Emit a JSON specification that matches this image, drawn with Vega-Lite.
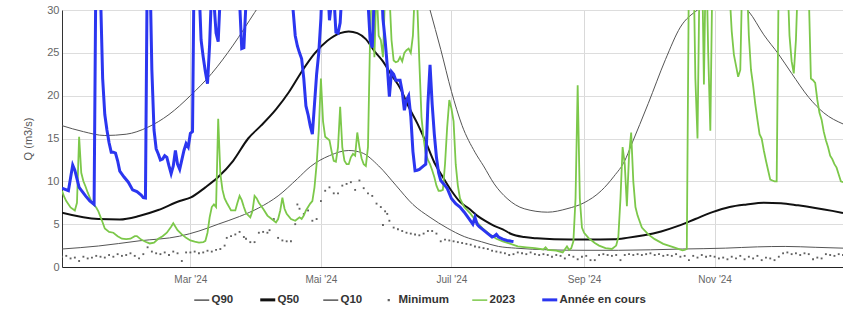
{
  "$schema": "https://vega.github.io/schema/vega-lite/v6.json",
  "width": 781,
  "height": 257,
  "autosize": "none",
  "padding": {"left": 62, "top": 10, "right": 0, "bottom": 45},
  "background": "white",
  "config": {
    "view": {"stroke": null},
    "font": "Liberation Sans"
  },
  "datasets": {
    "q90": [
      {"date":"2024-01-01","q":16.5},{"date":"2024-01-11","q":15.8},{"date":"2024-01-21","q":15.35},{"date":"2024-01-31","q":15.5},{"date":"2024-02-10","q":16.3},{"date":"2024-02-20","q":17.8},{"date":"2024-03-01","q":20.0},{"date":"2024-03-11","q":22.6},{"date":"2024-03-21","q":25.9},{"date":"2024-03-31","q":29.7},{"date":"2024-04-10","q":33.5},{"date":"2024-04-20","q":37.5},{"date":"2024-04-30","q":41},{"date":"2024-05-10","q":43.5},{"date":"2024-05-20","q":44.5},{"date":"2024-05-30","q":43},{"date":"2024-06-09","q":39},{"date":"2024-06-15","q":35.5},{"date":"2024-06-21","q":30.0},{"date":"2024-06-26","q":25.4},{"date":"2024-07-01","q":20.5},{"date":"2024-07-06","q":16.5},{"date":"2024-07-12","q":13.4},{"date":"2024-07-16","q":11.8},{"date":"2024-07-21","q":9.7},{"date":"2024-07-27","q":8.0},{"date":"2024-08-04","q":6.8},{"date":"2024-08-15","q":6.4},{"date":"2024-08-24","q":6.8},{"date":"2024-09-01","q":7.5},{"date":"2024-09-09","q":8.9},{"date":"2024-09-15","q":10.6},{"date":"2024-09-20","q":12.4},{"date":"2024-09-23","q":14.2},{"date":"2024-10-01","q":19.1},{"date":"2024-10-09","q":24.2},{"date":"2024-10-16","q":28.0},{"date":"2024-10-24","q":30.0},{"date":"2024-10-30","q":30.9},{"date":"2024-11-05","q":31.3},{"date":"2024-11-11","q":31.0},{"date":"2024-11-17","q":29.8},{"date":"2024-11-24","q":27.1},{"date":"2024-12-01","q":24.8},{"date":"2024-12-07","q":22.6},{"date":"2024-12-15","q":19.8},{"date":"2024-12-22","q":18.0},{"date":"2024-12-31","q":16.7}
    ],
    "q50": [
      {"date":"2024-01-01","q":6.35},{"date":"2024-01-18","q":5.6},{"date":"2024-01-28","q":5.55},{"date":"2024-02-06","q":5.95},{"date":"2024-02-15","q":6.65},{"date":"2024-02-25","q":7.7},{"date":"2024-03-01","q":8.1},{"date":"2024-03-08","q":9.3},{"date":"2024-03-14","q":10.5},{"date":"2024-03-21","q":12.4},{"date":"2024-03-28","q":15.0},{"date":"2024-04-03","q":16.5},{"date":"2024-04-10","q":18.4},{"date":"2024-04-16","q":20.4},{"date":"2024-04-22","q":22.8},{"date":"2024-04-28","q":24.9},{"date":"2024-05-04","q":26.4},{"date":"2024-05-10","q":27.3},{"date":"2024-05-14","q":27.5},{"date":"2024-05-18","q":27.3},{"date":"2024-05-22","q":26.6},{"date":"2024-05-26","q":25.2},{"date":"2024-05-30","q":24.0},{"date":"2024-06-03","q":22.4},{"date":"2024-06-07","q":20.9},{"date":"2024-06-11","q":18.7},{"date":"2024-06-15","q":16.8},{"date":"2024-06-19","q":14.6},{"date":"2024-06-23","q":12.2},{"date":"2024-06-27","q":10.5},{"date":"2024-07-01","q":8.9},{"date":"2024-07-05","q":7.6},{"date":"2024-07-09","q":6.85},{"date":"2024-07-13","q":6.0},{"date":"2024-07-17","q":5.35},{"date":"2024-07-21","q":4.8},{"date":"2024-07-25","q":4.4},{"date":"2024-07-29","q":3.85},{"date":"2024-08-04","q":3.5},{"date":"2024-08-10","q":3.35},{"date":"2024-08-18","q":3.25},{"date":"2024-09-02","q":3.2},{"date":"2024-09-15","q":3.25},{"date":"2024-09-21","q":3.4},{"date":"2024-09-29","q":3.7},{"date":"2024-10-07","q":4.15},{"date":"2024-10-15","q":4.8},{"date":"2024-10-23","q":5.6},{"date":"2024-10-31","q":6.4},{"date":"2024-11-08","q":7.0},{"date":"2024-11-16","q":7.3},{"date":"2024-11-24","q":7.5},{"date":"2024-12-02","q":7.45},{"date":"2024-12-10","q":7.2},{"date":"2024-12-18","q":6.9},{"date":"2024-12-26","q":6.55},{"date":"2024-12-31","q":6.3}
    ],
    "q10": [
      {"date":"2024-01-01","q":2.1},{"date":"2024-01-18","q":2.45},{"date":"2024-02-06","q":3.05},{"date":"2024-02-25","q":3.6},{"date":"2024-03-05","q":4.2},{"date":"2024-03-14","q":5.0},{"date":"2024-03-24","q":5.9},{"date":"2024-04-02","q":6.9},{"date":"2024-04-11","q":8.3},{"date":"2024-04-20","q":10.3},{"date":"2024-04-26","q":11.7},{"date":"2024-05-05","q":13.0},{"date":"2024-05-14","q":13.6},{"date":"2024-05-20","q":13.35},{"date":"2024-05-28","q":11.8},{"date":"2024-06-05","q":9.55},{"date":"2024-06-13","q":7.3},{"date":"2024-06-21","q":5.8},{"date":"2024-06-29","q":4.55},{"date":"2024-07-07","q":3.55},{"date":"2024-07-15","q":2.95},{"date":"2024-07-23","q":2.4},{"date":"2024-07-31","q":2.2},{"date":"2024-08-16","q":2.0},{"date":"2024-09-01","q":1.95},{"date":"2024-09-17","q":1.95},{"date":"2024-10-17","q":2.1},{"date":"2024-11-06","q":2.2},{"date":"2024-11-21","q":2.35},{"date":"2024-12-04","q":2.4},{"date":"2024-12-18","q":2.3},{"date":"2024-12-31","q":2.2}
    ],
    "minimum": [
      {"date":"2024-01-01","q":1.2},{"date":"2024-01-03","q":1.3},{"date":"2024-01-05","q":1.0},{"date":"2024-01-07","q":1.1},{"date":"2024-01-09","q":0.7},{"date":"2024-01-11","q":1.2},{"date":"2024-01-13","q":1.0},{"date":"2024-01-15","q":1.1},{"date":"2024-01-17","q":1.3},{"date":"2024-01-19","q":1.2},{"date":"2024-01-21","q":1.1},{"date":"2024-01-23","q":1.4},{"date":"2024-01-25","q":1.2},{"date":"2024-01-27","q":1.5},{"date":"2024-01-29","q":1.3},{"date":"2024-01-31","q":1.4},
      {"date":"2024-02-02","q":1.6},{"date":"2024-02-04","q":1.3},{"date":"2024-02-06","q":1.0},{"date":"2024-02-08","q":1.5},{"date":"2024-02-10","q":2.3},{"date":"2024-02-12","q":1.8},{"date":"2024-02-14","q":1.6},{"date":"2024-02-16","q":1.5},{"date":"2024-02-18","q":1.7},{"date":"2024-02-20","q":1.4},{"date":"2024-02-22","q":1.8},{"date":"2024-02-24","q":1.6},{"date":"2024-02-26","q":0.7},{"date":"2024-02-28","q":1.7},
      {"date":"2024-03-01","q":1.7},{"date":"2024-03-03","q":1.8},{"date":"2024-03-05","q":1.6},{"date":"2024-03-07","q":1.7},{"date":"2024-03-09","q":1.9},{"date":"2024-03-11","q":1.8},{"date":"2024-03-13","q":2.0},{"date":"2024-03-15","q":2.1},{"date":"2024-03-17","q":2.5},{"date":"2024-03-18","q":3.4},{"date":"2024-03-20","q":3.6},{"date":"2024-03-22","q":3.8},{"date":"2024-03-24","q":4.1},{"date":"2024-03-26","q":3.5},{"date":"2024-03-27","q":3.3},{"date":"2024-03-29","q":2.9},{"date":"2024-03-31","q":2.9},
      {"date":"2024-04-02","q":4.0},{"date":"2024-04-04","q":4.1},{"date":"2024-04-06","q":4.0},{"date":"2024-04-07","q":4.3},{"date":"2024-04-09","q":5.6},{"date":"2024-04-11","q":3.4},{"date":"2024-04-13","q":3.1},{"date":"2024-04-15","q":3.0},{"date":"2024-04-17","q":3.0},{"date":"2024-04-19","q":5.0},{"date":"2024-04-20","q":7.3},{"date":"2024-04-21","q":6.8},{"date":"2024-04-23","q":6.2},{"date":"2024-04-25","q":6.6},{"date":"2024-04-27","q":5.4},{"date":"2024-04-29","q":5.6},
      {"date":"2024-05-01","q":7.7},{"date":"2024-05-03","q":8.9},{"date":"2024-05-05","q":9.3},{"date":"2024-05-07","q":8.6},{"date":"2024-05-09","q":8.6},{"date":"2024-05-11","q":9.5},{"date":"2024-05-13","q":9.7},{"date":"2024-05-15","q":9.9},{"date":"2024-05-17","q":9.0},{"date":"2024-05-19","q":10.1},{"date":"2024-05-21","q":9.2},{"date":"2024-05-23","q":8.6},{"date":"2024-05-25","q":8.3},{"date":"2024-05-27","q":7.4},{"date":"2024-05-29","q":7.0},{"date":"2024-05-30","q":4.9},{"date":"2024-05-31","q":6.5},
      {"date":"2024-06-01","q":6.2},{"date":"2024-06-02","q":5.4},{"date":"2024-06-04","q":4.6},{"date":"2024-06-06","q":4.4},{"date":"2024-06-08","q":4.2},{"date":"2024-06-10","q":4.0},{"date":"2024-06-12","q":3.9},{"date":"2024-06-14","q":3.8},{"date":"2024-06-16","q":3.7},{"date":"2024-06-18","q":3.9},{"date":"2024-06-20","q":4.2},{"date":"2024-06-22","q":4.2},{"date":"2024-06-24","q":3.9},{"date":"2024-06-26","q":3.0},{"date":"2024-06-28","q":3.2},{"date":"2024-06-30","q":3.1},
      {"date":"2024-07-02","q":3.0},{"date":"2024-07-04","q":2.9},{"date":"2024-07-06","q":2.8},{"date":"2024-07-08","q":2.7},{"date":"2024-07-10","q":2.6},{"date":"2024-07-12","q":2.4},{"date":"2024-07-14","q":2.3},{"date":"2024-07-16","q":2.2},{"date":"2024-07-18","q":2.1},{"date":"2024-07-20","q":1.9},{"date":"2024-07-22","q":1.8},{"date":"2024-07-24","q":1.7},{"date":"2024-07-26","q":1.6},{"date":"2024-07-28","q":1.4},{"date":"2024-07-30","q":1.5},
      {"date":"2024-08-01","q":1.7},{"date":"2024-08-03","q":1.6},{"date":"2024-08-05","q":1.5},{"date":"2024-08-07","q":1.7},{"date":"2024-08-09","q":1.5},{"date":"2024-08-11","q":1.4},{"date":"2024-08-13","q":1.5},{"date":"2024-08-15","q":1.4},{"date":"2024-08-17","q":1.2},{"date":"2024-08-19","q":1.4},{"date":"2024-08-21","q":1.3},{"date":"2024-08-23","q":1.0},{"date":"2024-08-25","q":1.4},{"date":"2024-08-27","q":1.2},{"date":"2024-08-29","q":0.9},{"date":"2024-08-31","q":1.2},
      {"date":"2024-09-02","q":1.3},{"date":"2024-09-04","q":0.8},{"date":"2024-09-06","q":0.8},{"date":"2024-09-08","q":1.4},{"date":"2024-09-10","q":1.5},{"date":"2024-09-12","q":1.4},{"date":"2024-09-14","q":1.3},{"date":"2024-09-16","q":1.4},{"date":"2024-09-18","q":0.8},{"date":"2024-09-20","q":1.4},{"date":"2024-09-22","q":1.5},{"date":"2024-09-24","q":1.4},{"date":"2024-09-26","q":1.5},{"date":"2024-09-28","q":1.4},{"date":"2024-09-30","q":1.5},
      {"date":"2024-10-02","q":1.6},{"date":"2024-10-04","q":1.4},{"date":"2024-10-06","q":1.5},{"date":"2024-10-08","q":1.3},{"date":"2024-10-10","q":1.4},{"date":"2024-10-12","q":1.3},{"date":"2024-10-14","q":1.5},{"date":"2024-10-16","q":1.2},{"date":"2024-10-18","q":1.3},{"date":"2024-10-20","q":0.8},{"date":"2024-10-22","q":1.3},{"date":"2024-10-24","q":1.1},{"date":"2024-10-26","q":1.4},{"date":"2024-10-28","q":1.2},{"date":"2024-10-30","q":1.3},
      {"date":"2024-11-01","q":1.2},{"date":"2024-11-03","q":1.0},{"date":"2024-11-05","q":1.1},{"date":"2024-11-07","q":0.9},{"date":"2024-11-09","q":1.2},{"date":"2024-11-11","q":1.0},{"date":"2024-11-13","q":1.3},{"date":"2024-11-15","q":0.9},{"date":"2024-11-17","q":1.2},{"date":"2024-11-19","q":1.0},{"date":"2024-11-21","q":1.3},{"date":"2024-11-23","q":0.8},{"date":"2024-11-25","q":1.1},{"date":"2024-11-27","q":1.0},{"date":"2024-11-29","q":0.8},
      {"date":"2024-12-01","q":1.2},{"date":"2024-12-03","q":1.6},{"date":"2024-12-05","q":1.7},{"date":"2024-12-07","q":1.5},{"date":"2024-12-09","q":1.6},{"date":"2024-12-11","q":1.4},{"date":"2024-12-13","q":1.6},{"date":"2024-12-15","q":1.5},{"date":"2024-12-17","q":0.9},{"date":"2024-12-19","q":1.1},{"date":"2024-12-21","q":1.0},{"date":"2024-12-23","q":1.5},{"date":"2024-12-25","q":1.4},{"date":"2024-12-27","q":1.3},{"date":"2024-12-29","q":1.5},{"date":"2024-12-31","q":1.4}
    ],
    "y2023": [
      {"date":"2024-01-01","q":8.9},{"date":"2024-01-02","q":8.2},{"date":"2024-01-03","q":7.7},{"date":"2024-01-05","q":6.95},{"date":"2024-01-07","q":6.6},{"date":"2024-01-08","q":7.5},{"date":"2024-01-09","q":15.2},{"date":"2024-01-10","q":11.0},{"date":"2024-01-11","q":10.0},{"date":"2024-01-12","q":9.4},{"date":"2024-01-13","q":8.7},{"date":"2024-01-15","q":7.5},{"date":"2024-01-17","q":6.95},{"date":"2024-01-18","q":6.5},{"date":"2024-01-20","q":5.2},{"date":"2024-01-21","q":4.5},{"date":"2024-01-23","q":4.1},{"date":"2024-01-25","q":4.0},{"date":"2024-01-27","q":3.6},{"date":"2024-01-29","q":3.3},{"date":"2024-01-31","q":3.25},
      {"date":"2024-02-02","q":3.3},{"date":"2024-02-04","q":3.6},{"date":"2024-02-05","q":3.6},{"date":"2024-02-07","q":3.2},{"date":"2024-02-09","q":2.95},{"date":"2024-02-11","q":2.75},{"date":"2024-02-13","q":2.85},{"date":"2024-02-15","q":3.3},{"date":"2024-02-17","q":3.6},{"date":"2024-02-19","q":4.0},{"date":"2024-02-21","q":4.7},{"date":"2024-02-22","q":5.1},{"date":"2024-02-24","q":4.3},{"date":"2024-02-26","q":3.8},{"date":"2024-02-28","q":3.4},
      {"date":"2024-03-01","q":3.1},{"date":"2024-03-03","q":2.95},{"date":"2024-03-05","q":2.85},{"date":"2024-03-07","q":2.9},{"date":"2024-03-08","q":3.05},{"date":"2024-03-09","q":4.0},{"date":"2024-03-10","q":5.8},{"date":"2024-03-11","q":7.0},{"date":"2024-03-12","q":7.3},{"date":"2024-03-13","q":7.0},{"date":"2024-03-14","q":17.3},{"date":"2024-03-15","q":10.9},{"date":"2024-03-16","q":9.0},{"date":"2024-03-17","q":8.0},{"date":"2024-03-18","q":7.5},{"date":"2024-03-20","q":6.6},{"date":"2024-03-22","q":6.6},{"date":"2024-03-23","q":7.5},{"date":"2024-03-24","q":8.3},{"date":"2024-03-25","q":7.8},{"date":"2024-03-26","q":7.0},{"date":"2024-03-27","q":6.3},{"date":"2024-03-29","q":5.8},{"date":"2024-03-30","q":6.5},{"date":"2024-03-31","q":8.3},
      {"date":"2024-04-01","q":8.0},{"date":"2024-04-02","q":7.5},{"date":"2024-04-04","q":6.8},{"date":"2024-04-06","q":6.0},{"date":"2024-04-08","q":5.6},{"date":"2024-04-10","q":5.2},{"date":"2024-04-11","q":5.6},{"date":"2024-04-12","q":6.6},{"date":"2024-04-13","q":8.1},{"date":"2024-04-14","q":6.8},{"date":"2024-04-15","q":6.2},{"date":"2024-04-17","q":5.6},{"date":"2024-04-19","q":5.4},{"date":"2024-04-20","q":5.6},{"date":"2024-04-21","q":5.8},{"date":"2024-04-22","q":5.6},{"date":"2024-04-23","q":6.0},{"date":"2024-04-24","q":6.6},{"date":"2024-04-25","q":7.0},{"date":"2024-04-26","q":7.4},{"date":"2024-04-27","q":7.7},{"date":"2024-04-28","q":9.3},{"date":"2024-04-29","q":12},{"date":"2024-04-30","q":15.9},
      {"date":"2024-05-01","q":22.0},{"date":"2024-05-02","q":17.0},{"date":"2024-05-03","q":15.2},{"date":"2024-05-04","q":15.0},{"date":"2024-05-05","q":14.8},{"date":"2024-05-06","q":13.5},{"date":"2024-05-07","q":12.4},{"date":"2024-05-08","q":12.3},{"date":"2024-05-09","q":14},{"date":"2024-05-10","q":18.7},{"date":"2024-05-11","q":14},{"date":"2024-05-12","q":12.4},{"date":"2024-05-13","q":12.0},{"date":"2024-05-14","q":12.0},{"date":"2024-05-15","q":12.8},{"date":"2024-05-16","q":13.2},{"date":"2024-05-17","q":13.0},{"date":"2024-05-18","q":15.7},{"date":"2024-05-19","q":14},{"date":"2024-05-20","q":12.7},{"date":"2024-05-21","q":12.0},{"date":"2024-05-22","q":11.8},{"date":"2024-05-23","q":14},{"date":"2024-05-24","q":27},{"date":"2024-05-25","q":34},{"date":"2024-05-26","q":24.5},{"date":"2024-05-27","q":33},{"date":"2024-05-28","q":27},{"date":"2024-05-29","q":26.5},{"date":"2024-05-30","q":24.5},{"date":"2024-05-31","q":32},
      {"date":"2024-06-01","q":36},{"date":"2024-06-02","q":32},{"date":"2024-06-03","q":26.5},{"date":"2024-06-04","q":24.1},{"date":"2024-06-05","q":23.9},{"date":"2024-06-06","q":24.0},{"date":"2024-06-07","q":24.5},{"date":"2024-06-08","q":24.0},{"date":"2024-06-09","q":25.0},{"date":"2024-06-10","q":25.3},{"date":"2024-06-11","q":25.5},{"date":"2024-06-12","q":25.0},{"date":"2024-06-13","q":27},{"date":"2024-06-14","q":33},{"date":"2024-06-15","q":31},{"date":"2024-06-16","q":24},{"date":"2024-06-17","q":17.5},{"date":"2024-06-18","q":15.0},{"date":"2024-06-19","q":13.2},{"date":"2024-06-20","q":12.5},{"date":"2024-06-21","q":12.0},{"date":"2024-06-22","q":11.3},{"date":"2024-06-23","q":10.5},{"date":"2024-06-24","q":9.5},{"date":"2024-06-25","q":8.9},{"date":"2024-06-26","q":8.9},{"date":"2024-06-27","q":9.0},{"date":"2024-06-28","q":12},{"date":"2024-06-29","q":16.3},{"date":"2024-06-30","q":19.5},
      {"date":"2024-07-01","q":18.5},{"date":"2024-07-02","q":17},{"date":"2024-07-03","q":12},{"date":"2024-07-04","q":9.5},{"date":"2024-07-05","q":8.0},{"date":"2024-07-07","q":7.0},{"date":"2024-07-10","q":6.2},{"date":"2024-07-13","q":5.2},{"date":"2024-07-16","q":4.4},{"date":"2024-07-19","q":3.8},{"date":"2024-07-22","q":3.3},{"date":"2024-07-25","q":3.0},{"date":"2024-07-28","q":2.75},
      {"date":"2024-08-01","q":2.4},{"date":"2024-08-05","q":2.3},{"date":"2024-08-09","q":2.2},{"date":"2024-08-13","q":2.05},{"date":"2024-08-14","q":2.3},{"date":"2024-08-15","q":2.0},{"date":"2024-08-19","q":1.9},{"date":"2024-08-22","q":1.7},{"date":"2024-08-24","q":2.4},{"date":"2024-08-25","q":2.0},{"date":"2024-08-26","q":2.2},{"date":"2024-08-27","q":3.0},{"date":"2024-08-28","q":8},{"date":"2024-08-29","q":21.2},{"date":"2024-08-30","q":8.0},{"date":"2024-08-31","q":4.6},
      {"date":"2024-09-01","q":4.0},{"date":"2024-09-03","q":3.4},{"date":"2024-09-06","q":2.8},{"date":"2024-09-08","q":2.5},{"date":"2024-09-11","q":2.2},{"date":"2024-09-14","q":2.1},{"date":"2024-09-16","q":2.5},{"date":"2024-09-17","q":3.5},{"date":"2024-09-18","q":8},{"date":"2024-09-19","q":14.0},{"date":"2024-09-20","q":12.0},{"date":"2024-09-21","q":7.1},{"date":"2024-09-22","q":13},{"date":"2024-09-23","q":15.7},{"date":"2024-09-24","q":10},{"date":"2024-09-25","q":7.0},{"date":"2024-09-26","q":6.0},{"date":"2024-09-28","q":4.6},
      {"date":"2024-10-01","q":3.8},{"date":"2024-10-04","q":3.25},{"date":"2024-10-08","q":2.7},{"date":"2024-10-13","q":2.3},{"date":"2024-10-17","q":1.95},{"date":"2024-10-18","q":2.0},{"date":"2024-10-19","q":2.1},{"date":"2024-10-20","q":35},{"date":"2024-10-21","q":40},{"date":"2024-10-22","q":38},{"date":"2024-10-23","q":22},{"date":"2024-10-24","q":15.0},{"date":"2024-10-25","q":35},{"date":"2024-10-26","q":38},{"date":"2024-10-27","q":21.3},{"date":"2024-10-28","q":38},{"date":"2024-10-29","q":25},{"date":"2024-10-30","q":15.9},{"date":"2024-10-31","q":35},
      {"date":"2024-11-02","q":45},{"date":"2024-11-05","q":50},{"date":"2024-11-08","q":32},{"date":"2024-11-09","q":27.5},{"date":"2024-11-10","q":24.8},{"date":"2024-11-11","q":23.5},{"date":"2024-11-12","q":22.2},{"date":"2024-11-13","q":23},{"date":"2024-11-14","q":35},{"date":"2024-11-15","q":40},{"date":"2024-11-16","q":34},{"date":"2024-11-17","q":27},{"date":"2024-11-18","q":23},{"date":"2024-11-19","q":21.2},{"date":"2024-11-20","q":19.0},{"date":"2024-11-21","q":17.2},{"date":"2024-11-22","q":15.5},{"date":"2024-11-23","q":15.0},{"date":"2024-11-24","q":13.6},{"date":"2024-11-25","q":12.4},{"date":"2024-11-26","q":11.3},{"date":"2024-11-27","q":10.2},{"date":"2024-11-28","q":10.1},{"date":"2024-11-29","q":10.0},{"date":"2024-11-30","q":10.0},
      {"date":"2024-12-01","q":35},{"date":"2024-12-03","q":45},{"date":"2024-12-05","q":34},{"date":"2024-12-06","q":27},{"date":"2024-12-07","q":24},{"date":"2024-12-08","q":22.6},{"date":"2024-12-09","q":26.5},{"date":"2024-12-10","q":34},{"date":"2024-12-12","q":45},{"date":"2024-12-15","q":32},{"date":"2024-12-16","q":22},{"date":"2024-12-17","q":21.8},{"date":"2024-12-18","q":21.5},{"date":"2024-12-19","q":19.5},{"date":"2024-12-20","q":18},{"date":"2024-12-21","q":17.2},{"date":"2024-12-22","q":15.8},{"date":"2024-12-23","q":14.8},{"date":"2024-12-24","q":14},{"date":"2024-12-25","q":13},{"date":"2024-12-26","q":12.6},{"date":"2024-12-27","q":12.0},{"date":"2024-12-28","q":11.6},{"date":"2024-12-29","q":10.8},{"date":"2024-12-30","q":10.0},{"date":"2024-12-31","q":9.9}
    ],
    "courante": [
      {"date":"2024-01-01","q":9.2},{"date":"2024-01-04","q":8.9},{"date":"2024-01-06","q":11.9},{"date":"2024-01-07","q":11.3},{"date":"2024-01-09","q":9.3},{"date":"2024-01-12","q":8.3},{"date":"2024-01-14","q":7.7},{"date":"2024-01-16","q":7.3},{"date":"2024-01-17","q":40},{"date":"2024-01-18","q":45},{"date":"2024-01-19","q":32},{"date":"2024-01-20","q":22},{"date":"2024-01-21","q":17.8},{"date":"2024-01-22","q":16.0},{"date":"2024-01-23","q":14.5},{"date":"2024-01-24","q":13.4},{"date":"2024-01-25","q":13.4},{"date":"2024-01-26","q":13.3},{"date":"2024-01-27","q":12.4},{"date":"2024-01-28","q":11.2},{"date":"2024-01-30","q":10.5},
      {"date":"2024-02-01","q":9.9},{"date":"2024-02-03","q":9.0},{"date":"2024-02-05","q":8.8},{"date":"2024-02-07","q":8.4},{"date":"2024-02-08","q":8.1},{"date":"2024-02-09","q":8.05},{"date":"2024-02-10","q":40},{"date":"2024-02-11","q":36},{"date":"2024-02-12","q":23},{"date":"2024-02-13","q":16},{"date":"2024-02-14","q":13.8},{"date":"2024-02-15","q":13.2},{"date":"2024-02-16","q":12.5},{"date":"2024-02-17","q":12.6},{"date":"2024-02-18","q":13.0},{"date":"2024-02-19","q":12.8},{"date":"2024-02-20","q":11.8},{"date":"2024-02-21","q":10.9},{"date":"2024-02-22","q":11.8},{"date":"2024-02-23","q":13.6},{"date":"2024-02-24","q":12.0},{"date":"2024-02-25","q":11.4},{"date":"2024-02-26","q":12.5},{"date":"2024-02-27","q":13.6},{"date":"2024-02-28","q":14.4},{"date":"2024-02-29","q":14.0},
      {"date":"2024-03-01","q":15.6},{"date":"2024-03-02","q":15.8},{"date":"2024-03-03","q":42},{"date":"2024-03-04","q":45},{"date":"2024-03-05","q":33},{"date":"2024-03-06","q":26.5},{"date":"2024-03-07","q":24.5},{"date":"2024-03-08","q":22.8},{"date":"2024-03-09","q":21.4},{"date":"2024-03-10","q":26},{"date":"2024-03-11","q":33},{"date":"2024-03-12","q":31},{"date":"2024-03-13","q":27.3},{"date":"2024-03-14","q":26.3},{"date":"2024-03-15","q":32},{"date":"2024-03-16","q":40},{"date":"2024-03-19","q":45},{"date":"2024-03-22","q":40},{"date":"2024-03-24","q":31},{"date":"2024-03-25","q":25.5},{"date":"2024-03-26","q":25.6},{"date":"2024-03-27","q":31},{"date":"2024-03-28","q":40},
      {"date":"2024-04-02","q":50},{"date":"2024-04-07","q":42},{"date":"2024-04-11","q":55},{"date":"2024-04-15","q":45},{"date":"2024-04-17","q":34},{"date":"2024-04-18","q":30},{"date":"2024-04-19","q":27},{"date":"2024-04-20","q":25.8},{"date":"2024-04-21","q":25},{"date":"2024-04-22","q":24.3},{"date":"2024-04-23","q":22},{"date":"2024-04-24","q":18.8},{"date":"2024-04-25","q":17.8},{"date":"2024-04-26","q":16.5},{"date":"2024-04-27","q":15.5},{"date":"2024-04-28","q":19},{"date":"2024-04-29","q":22.5},{"date":"2024-04-30","q":25},
      {"date":"2024-05-01","q":29},{"date":"2024-05-02","q":36},{"date":"2024-05-03","q":40},{"date":"2024-05-04","q":34},{"date":"2024-05-05","q":28.8},{"date":"2024-05-06","q":31},{"date":"2024-05-07","q":32},{"date":"2024-05-08","q":27.4},{"date":"2024-05-09","q":27.3},{"date":"2024-05-10","q":28.5},{"date":"2024-05-11","q":33},{"date":"2024-05-12","q":40},{"date":"2024-05-16","q":48},{"date":"2024-05-20","q":42},{"date":"2024-05-22","q":40},{"date":"2024-05-23","q":31},{"date":"2024-05-24","q":26.5},{"date":"2024-05-25","q":25.6},{"date":"2024-05-26","q":32},{"date":"2024-05-27","q":42},{"date":"2024-05-28","q":40},{"date":"2024-05-29","q":35},{"date":"2024-05-30","q":29},{"date":"2024-05-31","q":26.5},
      {"date":"2024-06-01","q":23.5},{"date":"2024-06-02","q":19.9},{"date":"2024-06-03","q":22.8},{"date":"2024-06-04","q":22.5},{"date":"2024-06-05","q":21.8},{"date":"2024-06-06","q":21.8},{"date":"2024-06-07","q":21.8},{"date":"2024-06-08","q":20.5},{"date":"2024-06-09","q":18.3},{"date":"2024-06-10","q":19.5},{"date":"2024-06-11","q":20.0},{"date":"2024-06-12","q":17.6},{"date":"2024-06-13","q":13.5},{"date":"2024-06-14","q":11.25},{"date":"2024-06-15","q":11.3},{"date":"2024-06-16","q":11.4},{"date":"2024-06-17","q":11.6},{"date":"2024-06-18","q":11.8},{"date":"2024-06-19","q":12.0},{"date":"2024-06-20","q":19},{"date":"2024-06-21","q":23.6},{"date":"2024-06-22","q":19},{"date":"2024-06-23","q":15.5},{"date":"2024-06-24","q":12.8},{"date":"2024-06-25","q":11.0},{"date":"2024-06-26","q":10.1},{"date":"2024-06-27","q":9.8},{"date":"2024-06-28","q":9.5},{"date":"2024-06-29","q":9.2},
      {"date":"2024-07-01","q":8.0},{"date":"2024-07-03","q":7.4},{"date":"2024-07-05","q":7.0},{"date":"2024-07-07","q":6.4},{"date":"2024-07-09","q":5.7},{"date":"2024-07-11","q":5.0},{"date":"2024-07-12","q":5.8},{"date":"2024-07-13","q":5.0},{"date":"2024-07-14","q":4.7},{"date":"2024-07-16","q":4.3},{"date":"2024-07-18","q":3.9},{"date":"2024-07-20","q":3.5},{"date":"2024-07-21","q":3.6},{"date":"2024-07-22","q":3.8},{"date":"2024-07-23","q":3.5},{"date":"2024-07-25","q":3.25},{"date":"2024-07-27","q":3.1},{"date":"2024-07-29","q":3.0},{"date":"2024-07-30","q":2.97}
    ]
  },
  "encoding": {
    "x": {
      "field": "date",
      "type": "temporal",
      "scale": {
        "type": "utc",
        "domain": [
          {"year": 2024, "month": 1, "date": 1, "utc": true},
          {"year": 2024, "month": 12, "date": 31, "utc": true}
        ]
      },
      "axis": {
        "title": null,
        "values": [
          {"year": 2024, "month": 3, "date": 1, "utc": true},
          {"year": 2024, "month": 5, "date": 1, "utc": true},
          {"year": 2024, "month": 7, "date": 1, "utc": true},
          {"year": 2024, "month": 9, "date": 1, "utc": true},
          {"year": 2024, "month": 11, "date": 1, "utc": true}
        ],
        "labelExpr": "['Jan','Fév','Mar','Avr','Mai','Juin','Juil','Août','Sep','Oct','Nov','Déc'][utcmonth(datum.value)] + \" '24\"",
        "grid": true,
        "gridColor": "#d9d9d9",
        "ticks": false,
        "domain": true,
        "domainColor": "#222222",
        "labelColor": "#666666",
        "labelFontSize": 10,
        "labelPadding": 7,
        "labelFont": "Liberation Sans"
      }
    },
    "y": {
      "field": "q",
      "type": "quantitative",
      "scale": {"domain": [0, 30], "nice": false},
      "axis": {
        "title": "Q (m3/s)",
        "values": [0, 5, 10, 15, 20, 25, 30],
        "titleFontSize": 11,
        "titleFontWeight": "normal",
        "titleColor": "#555555",
        "titlePadding": 13,
        "titleFont": "Liberation Sans",
        "labelColor": "#666666",
        "labelFontSize": 11,
        "labelPadding": 3,
        "labelFont": "Liberation Sans",
        "ticks": false,
        "domain": true,
        "domainColor": "#333333",
        "grid": true,
        "gridColor": "#dddddd"
      }
    }
  },
  "layer": [
    {
      "data": {"name": "q90"},
      "mark": {"type": "line", "strokeWidth": 1, "interpolate": "monotone", "clip": true},
      "encoding": {
        "color": {
          "datum": "Q90",
          "scale": {
            "domain": ["Q90", "Q50", "Q10", "Minimum", "2023", "Année en cours"],
            "range": ["#555555", "#111111", "#555555", "#606060", "#7cc84a", "#2b36f0"]
          },
          "legend": {
            "title": null,
            "orient": "none",
            "direction": "horizontal",
            "legendX": 134,
            "legendY": 284,
            "symbolType": "stroke",
            "symbolSize": 225,
            "symbolStrokeWidth": 1.5,
            "columnPadding": 20,
            "labelOffset": 4,
            "labelFontSize": 11.5,
            "labelFontWeight": "bold",
            "labelColor": "#333333",
            "labelFont": "Liberation Sans",
            "encode": {
              "symbols": {
                "update": {
                  "shape": {"signal": "datum.value === 'Minimum' ? 'square' : 'stroke'"},
                  "size": {"signal": "datum.value === 'Minimum' ? 5 : 225"},
                  "strokeWidth": {"signal": "datum.value === 'Minimum' ? 0 : ((datum.value === 'Q50' || datum.value === 'Année en cours') ? 3 : 1.5)"},
                  "fill": {"signal": "datum.value === 'Minimum' ? '#555555' : 'transparent'"}
                }
              }
            }
          }
        }
      }
    },
    {
      "data": {"name": "q50"},
      "mark": {"type": "line", "strokeWidth": 2, "interpolate": "monotone", "clip": true},
      "encoding": {"color": {"datum": "Q50"}}
    },
    {
      "data": {"name": "q10"},
      "mark": {"type": "line", "strokeWidth": 1, "interpolate": "monotone", "clip": true},
      "encoding": {"color": {"datum": "Q10"}}
    },
    {
      "data": {"name": "minimum"},
      "mark": {"type": "point", "shape": "square", "size": 3.5, "filled": true, "opacity": 1, "clip": true},
      "encoding": {"color": {"datum": "Minimum"}}
    },
    {
      "data": {"name": "y2023"},
      "mark": {"type": "line", "strokeWidth": 1.8, "clip": true},
      "encoding": {"color": {"datum": "2023"}}
    },
    {
      "data": {"name": "courante"},
      "mark": {"type": "line", "strokeWidth": 3, "clip": true},
      "encoding": {"color": {"datum": "Année en cours"}}
    }
  ]
}
